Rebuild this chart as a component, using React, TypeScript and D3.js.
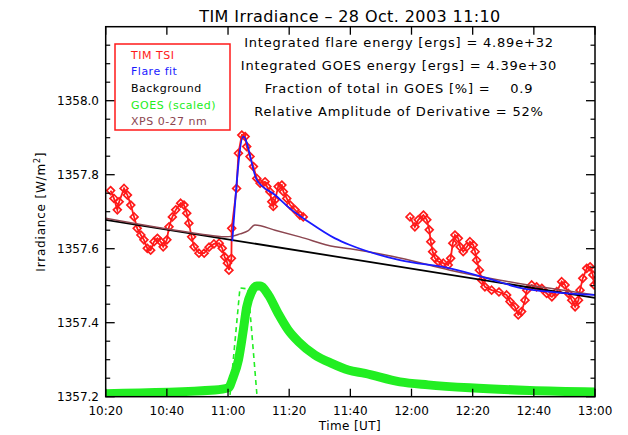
import React from "react";
import * as d3 from "d3";

// ---------- data (minutes after 10:20 UT, irradiance W/m^2) ----------
const timeTickMinutes = [0, 20, 40, 60, 80, 100, 120, 140, 160];
const timeTickLabels = ["10:20", "10:40", "11:00", "11:20", "11:40", "12:00", "12:20", "12:40", "13:00"];
const irrTickValues = [1357.2, 1357.4, 1357.6, 1357.8, 1358.0];
const irrTickLabels = ["1357.2", "1357.4", "1357.6", "1357.8", "1358.0"];
const irrMinorTicks = [1357.25, 1357.3, 1357.35, 1357.45, 1357.5, 1357.55, 1357.65, 1357.7, 1357.75, 1357.85, 1357.9, 1357.95, 1358.05, 1358.1, 1358.15];

const tsiSegment1: [number, number][] = [
  [1.6, 1357.757], [2.7, 1357.736], [3.8, 1357.705], [4.4, 1357.727], [6.0, 1357.763], [7.1, 1357.745],
  [8.2, 1357.718], [9.3, 1357.686], [10.3, 1357.655], [11.5, 1357.637], [12.5, 1357.624], [13.6, 1357.601],
  [14.7, 1357.596], [15.8, 1357.619], [16.9, 1357.628], [18.0, 1357.619], [18.8, 1357.605], [20.0, 1357.624],
  [20.7, 1357.659], [21.8, 1357.686], [22.9, 1357.705], [24.5, 1357.723], [25.6, 1357.718], [26.5, 1357.696],
  [27.2, 1357.669], [28.1, 1357.632], [28.9, 1357.605], [30.5, 1357.588], [32.2, 1357.588], [33.8, 1357.604],
  [35.4, 1357.613], [37.1, 1357.615], [38.1, 1357.601], [38.9, 1357.578], [39.8, 1357.561], [40.3, 1357.542],
  [41.1, 1357.574], [41.2, 1357.655], [42.8, 1357.763], [43.4, 1357.858], [44.5, 1357.907], [45.6, 1357.903],
  [46.1, 1357.876], [47.2, 1357.849], [48.3, 1357.822], [49.4, 1357.790], [50.5, 1357.777], [52.1, 1357.781],
  [52.7, 1357.768], [53.7, 1357.754], [54.3, 1357.727], [54.8, 1357.714], [55.4, 1357.732], [56.4, 1357.768],
  [57.6, 1357.772], [58.1, 1357.754], [59.2, 1357.736], [60.3, 1357.718], [61.9, 1357.705], [63.5, 1357.691],
  [64.6, 1357.686],
];

const tsiSegment2: [number, number][] = [
  [99.5, 1357.686], [101.1, 1357.659], [102.2, 1357.678], [103.9, 1357.691], [105.0, 1357.678], [105.8, 1357.651],
  [106.3, 1357.619], [106.9, 1357.592], [107.7, 1357.574], [108.8, 1357.565], [110.4, 1357.561], [112.0, 1357.556],
  [112.8, 1357.574], [113.5, 1357.615], [114.2, 1357.637], [115.3, 1357.628], [115.9, 1357.605], [116.9, 1357.592],
  [118.1, 1357.605], [119.1, 1357.619], [120.2, 1357.610], [120.8, 1357.592], [121.3, 1357.569], [122.2, 1357.542],
  [123.0, 1357.515], [124.0, 1357.497], [126.2, 1357.488], [128.6, 1357.483], [131.1, 1357.475], [132.2, 1357.457],
  [133.8, 1357.443], [134.9, 1357.421], [136.0, 1357.430], [137.1, 1357.461], [137.7, 1357.488], [139.3, 1357.502],
  [140.9, 1357.497], [142.6, 1357.493], [144.2, 1357.479], [145.9, 1357.470], [147.5, 1357.484], [149.1, 1357.511],
  [150.2, 1357.502], [151.3, 1357.479], [152.4, 1357.461], [153.5, 1357.443], [154.6, 1357.461], [155.1, 1357.488],
  [156.0, 1357.520], [157.3, 1357.547], [158.4, 1357.551], [159.3, 1357.529], [159.7, 1357.502],
];

const flareFit: [number, number][] = [
  [41.4, 1357.620], [45.0, 1357.903], [49.4, 1357.786], [55.4, 1357.745], [60.8, 1357.705], [66.3, 1357.673],
  [75.0, 1357.628], [79.9, 1357.610], [96.2, 1357.569], [112.6, 1357.547], [128.9, 1357.510], [135.5, 1357.494],
  [160.0, 1357.475],
];

const background: [number, number][] = [
  [0, 1357.678], [160, 1357.467],
];

const goesScaled: [number, number][] = [
  [0, 1357.208], [35.7, 1357.218], [40.1, 1357.224], [41.7, 1357.253], [43.4, 1357.299], [45.0, 1357.380],
  [46.1, 1357.442], [47.7, 1357.483], [49.4, 1357.499], [50.5, 1357.499], [53.2, 1357.475], [56.4, 1357.425],
  [59.7, 1357.380], [63.0, 1357.349], [68.4, 1357.313], [73.9, 1357.290], [79.3, 1357.272], [84.8, 1357.263],
  [96.2, 1357.240], [105.4, 1357.232], [119.1, 1357.224], [138.7, 1357.217], [160.0, 1357.213],
];

const goesDerivative: [number, number][] = [
  [0, 1357.2], [40.6, 1357.2], [43.9, 1357.494], [46.6, 1357.491], [49.5, 1357.2], [160, 1357.2],
];

const xps: [number, number][] = [
  [0, 1357.682], [30.8, 1357.640], [39.0, 1357.632], [41.6, 1357.634], [43.9, 1357.640], [46.5, 1357.648],
  [48.8, 1357.664], [55.4, 1357.650], [63.5, 1357.632], [75.0, 1357.605], [79.9, 1357.600], [96.2, 1357.575],
  [112.6, 1357.542], [129.0, 1357.515], [160.0, 1357.475],
];

const legendLabels = ["TIM TSI", "Flare fit", "Background", "GOES (scaled)", "XPS 0-27 nm"];
const legendColors = ["#ff1a1a", "#1a1aff", "#000000", "#22ee22", "#8c4650"];

const infoLines = [
  "Integrated flare energy [ergs] = 4.89e+32",
  "Integrated GOES energy [ergs] = 4.39e+30",
  "Fraction of total in GOES [%] =    0.9",
  "Relative Amplitude of Derivative = 52%",
];

const titleText = "TIM Irradiance \u2013 28 Oct. 2003 11:10";

// ---------- component ----------
export default function App() {
  const left = 105.7, right = 595, top = 26.7, bottom = 396.7;
  const x = d3.scaleLinear().domain([0, 160]).range([left, right]);
  const y = d3.scaleLinear().domain([1357.2, 1358.2]).range([bottom, top]);

  const lin = d3.line<[number, number]>().x((d) => x(d[0])).y((d) => y(d[1]));
  const smooth = d3
    .line<[number, number]>()
    .x((d) => x(d[0]))
    .y((d) => y(d[1]))
    .curve(d3.curveMonotoneX);

  const r = 3.9;
  const diamond = `M0,${-r}L${r},0L0,${r}L${-r},0Z`;
  const font = "DejaVu Sans, Verdana, sans-serif";

  return (
    <svg
      width={628}
      height={435}
      style={{ position: "absolute", left: 0, top: 0, display: "block" }}
      fontFamily={font}
    >
      <rect x={0} y={0} width={628} height={435} fill="#ffffff" />
      <defs>
        <clipPath id="plotClip">
          <rect x={left} y={top} width={right - left} height={bottom - top} />
        </clipPath>
      </defs>

      {/* title */}
      <text x={350} y={22} textAnchor="middle" fontSize={16} letterSpacing={0.4} fill="#000">
        {titleText}
      </text>

      <g clipPath="url(#plotClip)">
        {/* GOES scaled: dense symbols forming a thick band */}
        <path d={smooth(goesScaled) || ""} fill="none" stroke="#22ee22" strokeWidth={9} strokeLinejoin="round" strokeLinecap="round" />
        {/* GOES derivative, dashed */}
        <path d={lin(goesDerivative) || ""} fill="none" stroke="#22ee22" strokeWidth={1.6} strokeDasharray="5,4" />

        {/* TIM TSI */}
        {[tsiSegment1, tsiSegment2].map((seg, i) => (
          <g key={i}>
            <path d={lin(seg) || ""} fill="none" stroke="#ff1a1a" strokeWidth={1.8} />
            {seg.map((d, j) => (
              <path
                key={j}
                d={diamond}
                transform={`translate(${x(d[0])},${y(d[1])})`}
                fill="none"
                stroke="#ff1a1a"
                strokeWidth={1.7}
              />
            ))}
          </g>
        ))}

        {/* Background */}
        <path d={lin(background) || ""} fill="none" stroke="#000" strokeWidth={1.8} />
        {/* XPS */}
        <path d={smooth(xps) || ""} fill="none" stroke="#8c4650" strokeWidth={1.5} />
        {/* Flare fit */}
        <path d={smooth(flareFit) || ""} fill="none" stroke="#1a1aff" strokeWidth={1.8} />
      </g>

      {/* frame */}
      <rect x={left} y={top} width={right - left} height={bottom - top} fill="none" stroke="#000" strokeWidth={1.5} />

      {/* x ticks */}
      {timeTickMinutes.map((t, i) => (
        <g key={t}>
          <line x1={x(t)} x2={x(t)} y1={bottom} y2={bottom - 8} stroke="#000" strokeWidth={1.3} />
          <line x1={x(t)} x2={x(t)} y1={top} y2={top + 8} stroke="#000" strokeWidth={1.3} />
          <text x={x(t)} y={415} textAnchor="middle" fontSize={12} fill="#000">
            {timeTickLabels[i]}
          </text>
        </g>
      ))}

      {/* y ticks */}
      {irrTickValues.map((v, i) => (
        <g key={v}>
          <line x1={left} x2={left + 9} y1={y(v)} y2={y(v)} stroke="#000" strokeWidth={1.3} />
          <line x1={right} x2={right - 9} y1={y(v)} y2={y(v)} stroke="#000" strokeWidth={1.3} />
          <text x={99} y={y(v) + 4.5} textAnchor="end" fontSize={12} fill="#000">
            {irrTickLabels[i]}
          </text>
        </g>
      ))}
      {irrMinorTicks.map((v) => (
        <g key={v}>
          <line x1={left} x2={left + 4.5} y1={y(v)} y2={y(v)} stroke="#000" strokeWidth={1.2} />
          <line x1={right} x2={right - 4.5} y1={y(v)} y2={y(v)} stroke="#000" strokeWidth={1.2} />
        </g>
      ))}

      {/* axis titles */}
      <text x={350} y={430} textAnchor="middle" fontSize={12} letterSpacing={0.4} fill="#000">
        Time [UT]
      </text>
      <text
        transform={`translate(45,${(top + bottom) / 2}) rotate(-90)`}
        textAnchor="middle"
        fontSize={12}
        letterSpacing={0.8}
        fill="#000"
      >
        Irradiance [W/m
        <tspan dy={-5} fontSize={8}>2</tspan>
        <tspan dy={5}>]</tspan>
      </text>

      {/* legend */}
      <rect x={115} y={44} width={115} height={86} fill="#fff" stroke="#ff1a1a" strokeWidth={1.5} />
      {legendLabels.map((lab, i) => (
        <text key={lab} x={131} y={58.5 + i * 16.7} fontSize={11} letterSpacing={0.5} fill={legendColors[i]}>
          {lab}
        </text>
      ))}

      {/* info text */}
      {infoLines.map((s, i) => (
        <text
          key={i}
          x={399}
          y={47 + i * 23}
          textAnchor="middle"
          fontSize={13}
          letterSpacing={0.8}
          fill="#000"
          style={{ whiteSpace: "pre" }}
        >
          {s}
        </text>
      ))}
    </svg>
  );
}
